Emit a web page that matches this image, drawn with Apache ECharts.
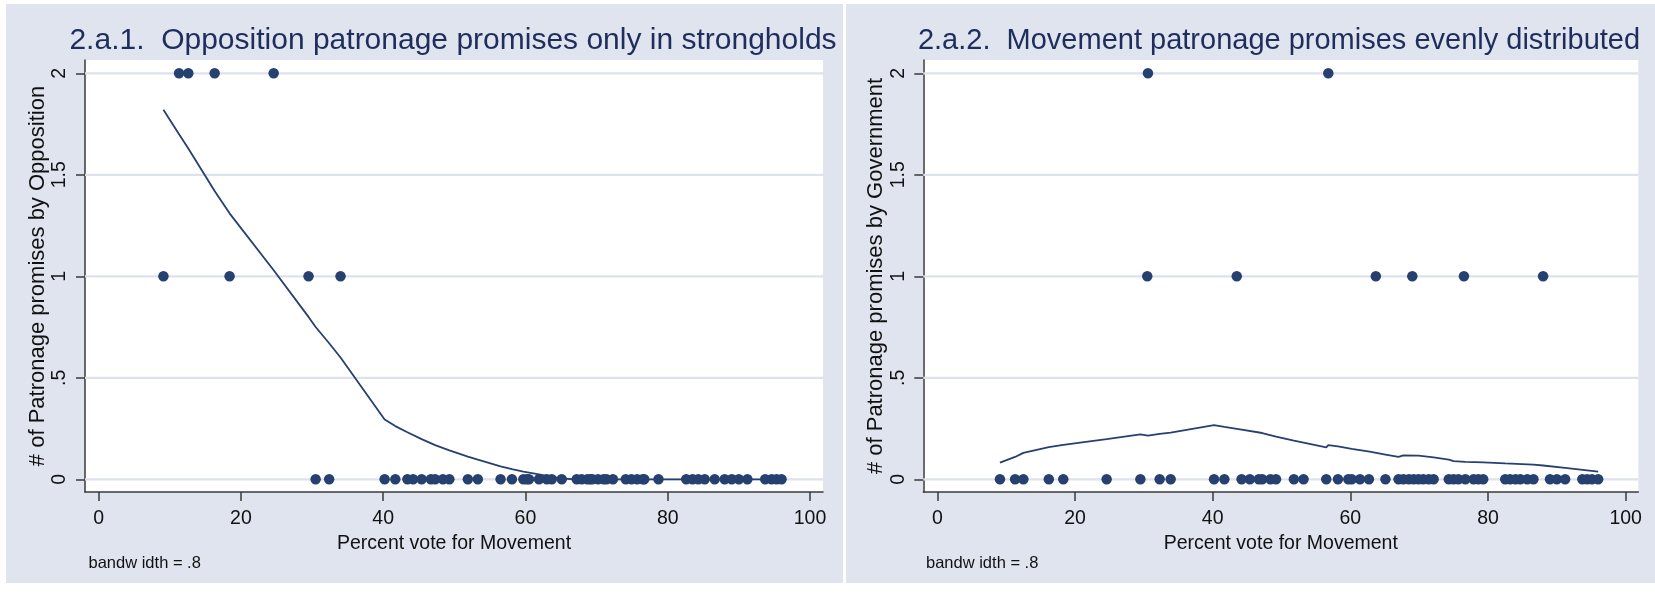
<!DOCTYPE html>
<html>
<head>
<meta charset="utf-8">
<title>Patronage promises and vote share</title>
<script src="https://cdn.jsdelivr.net/npm/echarts@6/dist/echarts.min.js"></script>
<style>
  html, body { margin: 0; padding: 0; background: #ffffff; }
  #chart { width: 1655px; height: 593px; }
</style>
</head>
<body>
<div id="chart"></div>
<script>
// ---- Axis ticks ----
const voteTicks = [0, 20, 40, 60, 80, 100];
const promiseTicks = [0, 0.5, 1, 1.5, 2];
const promiseTickLabels = ['0', '.5', '1', '1.5', '2'];

// ---- Panel 1: promises by the opposition (percent vote at each count) ----
const oppositionTwo = [11.3, 12.6, 16.3, 24.6];
const oppositionOne = [9.1, 18.4, 29.5, 34.0];
const oppositionZero = [30.5, 32.4, 40.2, 41.7, 43.4, 44.2, 45.4, 46.7, 47.3, 48.4,
  49.3, 51.9, 53.3, 56.5, 58.1, 59.7, 60.2, 60.5, 61.9, 63.0, 63.7, 65.1, 67.2, 67.9,
  68.7, 69.1, 69.4, 70.2, 71.0, 71.4, 72.3, 74.1, 74.9, 75.7, 76.5, 76.7, 78.7, 82.6,
  83.5, 84.3, 85.2, 86.6, 88.0, 89.0, 90.0, 91.2, 93.7, 94.6, 95.3, 96.0];
// lowess fit (bandwidth .8)
const oppositionFit = [[9.1, 1.82], [11.3, 1.70], [12.6, 1.63], [16.3, 1.42], [18.4, 1.31],
  [24.6, 1.03], [29.5, 0.80], [30.5, 0.75], [32.4, 0.67], [34.0, 0.60], [40.2, 0.295],
  [41.7, 0.262], [43.4, 0.232], [45.4, 0.198], [47.3, 0.168], [49.3, 0.142], [51.9, 0.112],
  [53.3, 0.097], [56.5, 0.064], [58.1, 0.05], [59.7, 0.038], [61.9, 0.024], [63.7, 0.012],
  [65.1, 0.004], [67.2, 0], [96.0, 0]];

// ---- Panel 2: promises by the government ----
const governmentTwo = [30.6, 56.8];
const governmentOne = [30.5, 43.5, 63.7, 69.0, 76.5, 88.0];
const governmentZero = [9.1, 11.3, 12.5, 16.2, 18.3, 24.6, 29.5, 32.3, 33.9, 40.2, 41.7,
  44.2, 45.4, 46.7, 47.2, 48.4, 49.2, 51.8, 53.2, 56.5, 58.2, 59.7, 60.2, 61.4, 62.7,
  65.1, 67.0, 67.7, 68.5, 69.2, 69.9, 70.6, 71.4, 72.1, 74.3, 75.0, 75.7, 76.7, 77.9,
  78.6, 79.3, 82.5, 83.2, 84.0, 84.7, 85.7, 86.6, 89.0, 90.0, 91.2, 93.7, 94.4, 95.1, 96.0];
const governmentFit = [[9.1, 0.082], [11.3, 0.11], [12.5, 0.13], [16.2, 0.158], [18.3, 0.17],
  [24.6, 0.198], [29.5, 0.221], [30.6, 0.215], [32.3, 0.224], [33.9, 0.23], [40.2, 0.267],
  [41.7, 0.258], [44.2, 0.245], [47.2, 0.228], [49.2, 0.21], [51.8, 0.19], [53.2, 0.181],
  [56.5, 0.157], [56.8, 0.168], [58.2, 0.162], [60.2, 0.15], [62.8, 0.136], [65.1, 0.122],
  [67.0, 0.11], [67.7, 0.118], [69.9, 0.117], [72.1, 0.108], [74.3, 0.097], [75.0, 0.089],
  [76.7, 0.086], [79.3, 0.083], [82.5, 0.078], [86.6, 0.072], [88.0, 0.068], [91.2, 0.056],
  [94.4, 0.044], [96.0, 0.038]];

const panelTitles = ['2.a.1.  Opposition patronage promises only in strongholds',
                     '2.a.2.  Movement patronage promises evenly distributed'];
const yTitles = ['# of Patronage promises by Opposition', '# of Patronage promises by Government'];
const xTitle = 'Percent vote for Movement';
const noteText = 'bandw idth = .8';

// ---- Styling ----
const FONT = "'Liberation Sans', Arial, Helvetica, sans-serif";
const NAVY = '#26406f';
const TITLE_COLOR = '#1e2d5c';
const PANEL_BG = '#dfe4ee';
const GRID_LINE = '#dde2ed';
const AXIS_COLOR = '#3a3a3a';

// horizontal extent of each panel's x axis (plot region includes a small margin)
const xRanges = [[-1.926, 101.83], [-2.034, 101.83]];
const yRange = [-0.0626, 2.0655];

function points(zero, one, two) {
  return zero.map(v => [v, 0]).concat(one.map(v => [v, 1]), two.map(v => [v, 2]));
}

function xAxisFor(idx) {
  return {
    type: 'value', gridIndex: idx, min: xRanges[idx][0], max: xRanges[idx][1],
    name: xTitle, nameLocation: 'middle', nameGap: 35,
    nameTextStyle: { fontFamily: FONT, fontSize: 19.5, color: '#111' },
    axisLine: { show: true, onZero: false, lineStyle: { color: AXIS_COLOR, width: 1.5 } },
    axisTick: { show: true, customValues: voteTicks, length: 9, lineStyle: { color: AXIS_COLOR, width: 1.5 } },
    axisLabel: { customValues: voteTicks, margin: 17, fontFamily: FONT, fontSize: 19.5, color: '#111' },
    splitLine: { show: false }
  };
}

function yAxisFor(idx) {
  return {
    type: 'value', gridIndex: idx, min: yRange[0], max: yRange[1],
    name: yTitles[idx], nameLocation: 'middle', nameGap: 32, nameRotate: 90,
    nameTextStyle: { fontFamily: FONT, fontSize: 22, color: '#111' },
    axisLine: { show: true, onZero: false, lineStyle: { color: AXIS_COLOR, width: 1.5 } },
    axisTick: { show: true, customValues: promiseTicks, length: 9, lineStyle: { color: AXIS_COLOR, width: 1.5 } },
    axisLabel: {
      customValues: promiseTicks, rotate: 90, margin: 15,
      fontFamily: FONT, fontSize: 19.5, color: '#111',
      formatter: v => promiseTickLabels[promiseTicks.indexOf(v)] ?? String(v)
    },
    splitLine: { show: false }
  };
}

// horizontal gridlines at each y tick, kept underneath the markers
function gridLines(idx) {
  return promiseTicks.map(v => ({
    type: 'line', xAxisIndex: idx, yAxisIndex: idx, z: 1, silent: true,
    showSymbol: false, animation: false,
    lineStyle: { color: GRID_LINE, width: 2.2 },
    data: [[xRanges[idx][0], v], [xRanges[idx][1], v]]
  }));
}

function dots(idx, data) {
  return {
    type: 'scatter', xAxisIndex: idx, yAxisIndex: idx, data: data, z: 3,
    symbol: 'circle', symbolSize: 10.5, itemStyle: { color: NAVY, opacity: 1 }
  };
}

function fit(idx, data) {
  return {
    type: 'line', xAxisIndex: idx, yAxisIndex: idx, data: data, z: 4,
    showSymbol: false, smooth: false, lineStyle: { color: NAVY, width: 1.8 }
  };
}

const chart = echarts.init(document.getElementById('chart'), null, { renderer: 'canvas' });

chart.setOption({
  animation: false,
  backgroundColor: '#ffffff',
  graphic: [
    { type: 'rect', z: -10, shape: { x: 6, y: 4, width: 837, height: 579 }, style: { fill: PANEL_BG } },
    { type: 'rect', z: -10, shape: { x: 846, y: 4, width: 809, height: 579 }, style: { fill: PANEL_BG } }
  ],
  title: [
    { text: panelTitles[0], left: 453, top: 26, padding: 0, textAlign: 'center', textVerticalAlign: 'top',
      textStyle: { fontFamily: FONT, fontSize: 30, fontWeight: 'normal', color: TITLE_COLOR } },
    { text: panelTitles[1], left: 1279, top: 26, padding: 0, textAlign: 'center', textVerticalAlign: 'top',
      textStyle: { fontFamily: FONT, fontSize: 29, fontWeight: 'normal', color: TITLE_COLOR } },
    { text: noteText, left: 88.5, top: 555, padding: 0, textAlign: 'left', textVerticalAlign: 'top',
      textStyle: { fontFamily: FONT, fontSize: 16.5, fontWeight: 'normal', color: '#111' } },
    { text: noteText, left: 926, top: 555, padding: 0, textAlign: 'left', textVerticalAlign: 'top',
      textStyle: { fontFamily: FONT, fontSize: 16.5, fontWeight: 'normal', color: '#111' } }
  ],
  grid: [
    { left: 85, top: 60, width: 738, height: 432, show: true, backgroundColor: '#ffffff', borderWidth: 0 },
    { left: 923.3, top: 60, width: 715, height: 432, show: true, backgroundColor: '#ffffff', borderWidth: 0 }
  ],
  xAxis: [xAxisFor(0), xAxisFor(1)],
  yAxis: [yAxisFor(0), yAxisFor(1)],
  series: [].concat(
    gridLines(0),
    [dots(0, points(oppositionZero, oppositionOne, oppositionTwo)), fit(0, oppositionFit)],
    gridLines(1),
    [dots(1, points(governmentZero, governmentOne, governmentTwo)), fit(1, governmentFit)]
  )
});
</script>
</body>
</html>
